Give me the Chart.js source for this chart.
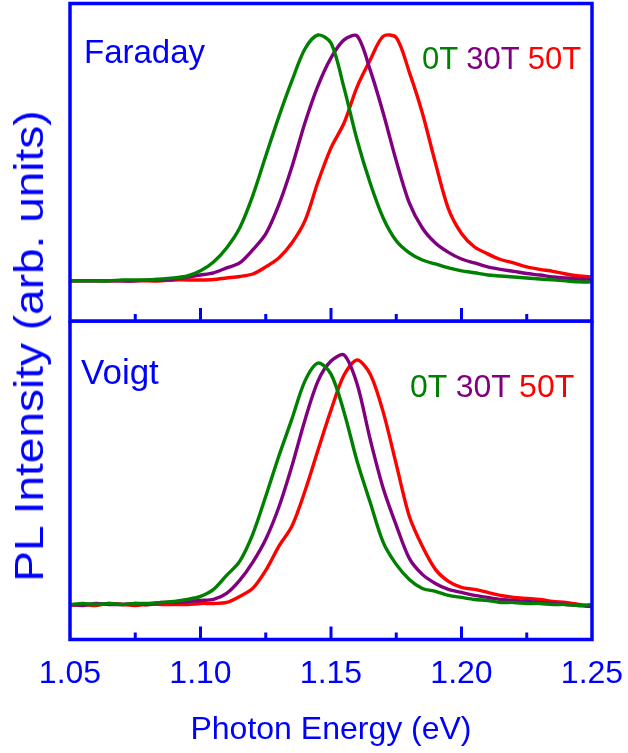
<!DOCTYPE html>
<html>
<head>
<meta charset="utf-8">
<script src="https://cdn.jsdelivr.net/npm/chart.js@4.4.1/dist/chart.umd.min.js"></script>
<style>
  html, body { margin: 0; padding: 0; background: #ffffff; }
  #wrap { position: relative; width: 628px; height: 753px; overflow: hidden; font-family: "Liberation Sans", Arial, sans-serif; }
  canvas { position: absolute; left: 0; }
  .txt { position: absolute; white-space: nowrap; line-height: 1; }
  #ytitle { position: absolute; left: -221px; top: 326px; width: 500px; height: 40px; font-size: 40px; color: #0000ff; text-align: center; transform: rotate(-90deg) scaleX(1.15); transform-origin: 50% 50%; line-height: 1; white-space: nowrap; }
</style>
</head>
<body>
<div id="wrap">
  <canvas id="topChart" style="top:0px"></canvas>
  <canvas id="botChart" style="top:321px"></canvas>
  <div class="txt" id="lblFaraday" style="left:84px; top:35px; font-size:33px; color:#0000ff;">Faraday</div>
  <div class="txt" id="lblVoigt" style="left:81px; top:354px; font-size:35px; color:#0000ff;">Voigt</div>
  <div class="txt" id="legTop" style="left:422px; top:43px; font-size:31px;"></div>
  <div class="txt" id="legBot" style="left:410px; top:370px; font-size:32px;"></div>
  <div id="ytitle">PL Intensity (arb. units)</div>
</div>
<script>
// ---- data ----
const energy = [1.050,1.055,1.060,1.065,1.070,1.075,1.080,1.085,1.090,1.095,
                1.100,1.105,1.110,1.115,1.120,1.125,1.130,1.135,1.140,1.145,
                1.150,1.155,1.160,1.165,1.170,1.175,1.180,1.185,1.190,1.195,
                1.200,1.205,1.210,1.215,1.220,1.225,1.230,1.235,1.240,1.245,1.250];

const fieldLabels = ["0T", "30T", "50T"];
const fieldColors = ["#008000", "#800080", "#ff0000"];

// Faraday geometry (normalised PL intensity)
const faraday0T  = [0,0,0,0,0.4,0.4,0.4,0.8,1.2,2.0,
                    4.1,7.7,13.4,21.5,34.6,50.8,66.7,81.3,94.3,100,
                    96.7,78.5,57.3,39.8,25.6,16.3,11.4,8.5,6.9,5.3,
                    4.1,3.3,2.4,2.0,1.6,1.2,0.8,0.4,0,-0.4,-0.4];
const faraday30T = [0,0,0,0,0,0,0.4,0.4,0.8,1.6,
                    2.4,3.3,5.3,7.3,12.6,19.1,30.9,46.3,64.2,79.3,
                    90.7,98.0,99.6,85.8,68.3,48.8,31.7,21.5,15.4,11.6,
                    8.9,7.3,5.7,4.7,3.9,3.0,2.4,1.6,1.2,0.8,0.4];
const faraday50T = [0,0,0,0,0,0,0,0,0.4,0.4,
                    0.4,0.6,1.2,1.8,2.8,5.7,9.3,15.4,24.4,40.2,
                    54.1,64.2,78.9,89.8,99.5,99.0,84.9,68.3,48.0,29.3,
                    19.3,13.8,11.0,8.7,7.3,5.7,4.7,3.9,2.8,2.0,1.6];

// Voigt geometry (normalised PL intensity)
const voigt0T  = [0,0.4,0,0.4,0,0.4,0.4,0.8,1.2,2.0,
                  3.2,6.0,11.6,17.2,28.0,43.2,59.2,74.0,89.2,96.4,
                  92.0,76.8,57.2,40.8,24.8,16.0,10.0,6.4,5.2,3.6,
                  2.8,2.0,1.6,0.8,0.8,0.4,0.4,0,0,-0.4,0];
const voigt30T = [0,-0.4,0.4,0,0,0.4,0,0.8,0.8,1.2,
                  1.6,2.0,4.4,9.6,16.8,26.0,38.8,55.2,73.6,89.2,
                  97.2,99.6,88.0,66.0,46.4,31.6,18.4,12.0,8.4,6.0,
                  4.8,3.6,2.8,2.0,1.6,1.2,0.8,0.4,0,-0.4,-0.8];
const voigt50T = [-0.4,0,-0.4,0.4,0,-0.4,0,0,0,0,
                  0.4,0.4,0.8,3.2,6.4,13.6,23.2,31.2,45.2,61.6,
                  77.6,91.6,97.6,92.0,76.8,56.0,35.2,23.2,14.0,9.2,
                  6.8,6.0,4.8,3.6,2.8,2.4,2.0,1.2,0.8,0,-0.8];

const xMin = 1.05, xMax = 1.25;
const majorTicks = [1.05, 1.10, 1.15, 1.20, 1.25];

// ---- helpers ----
const BLUE = "#0000ff";
const FONT = "'Liberation Sans', Arial, sans-serif";

function pts(arr) { return energy.map((e, i) => ({ x: e, y: arr[i] })); }

function makeDatasets(series) {
  return series.map((s, i) => ({
    label: fieldLabels[i],
    data: pts(s),
    borderColor: fieldColors[i],
    backgroundColor: fieldColors[i],
    borderWidth: 3.4,
    pointRadius: 0,
    fill: false,
    tension: 0.3
  }));
}

// frame + inward ticks along the bottom edge, positioned by the x scale
const framePlugin = {
  id: 'frame',
  afterDraw(chart) {
    const { ctx, chartArea: a } = chart;
    const xs = chart.scales.x;
    ctx.save();
    ctx.strokeStyle = BLUE;
    ctx.lineWidth = 3.5;
    ctx.strokeRect(a.left, a.top, a.right - a.left, a.bottom - a.top);
    ctx.lineWidth = 3;
    ctx.lineCap = 'butt';
    xs.ticks.forEach(t => {
      const px = xs.getPixelForValue(t.value);
      if (px <= a.left + 2 || px >= a.right - 2) return;
      const major = majorTicks.some(m => Math.abs(m - t.value) < 1e-6);
      const len = major ? 13 : 7;
      ctx.beginPath();
      ctx.moveTo(px, a.bottom);
      ctx.lineTo(px, a.bottom - len);
      ctx.stroke();
    });
    ctx.restore();
  }
};

function baseOptions(yMin, yMax, showX, pad, axisHeight) {
  return {
    responsive: false,
    animation: false,
    events: [],
    layout: { padding: pad },
    plugins: { legend: { display: false }, tooltip: { enabled: false } },
    scales: {
      x: {
        type: 'linear',
        min: xMin, max: xMax,
        display: showX,
        grid: { display: false },
        border: { display: false },
        afterFit: s => { s.paddingLeft = 0; s.paddingRight = 0; if (showX) s.height = axisHeight; },
        ticks: {
          stepSize: 0.025,
          autoSkip: false,
          maxRotation: 0,
          padding: 7.5,
          color: BLUE,
          font: { family: FONT, size: 32 },
          callback: v => majorTicks.some(m => Math.abs(m - v) < 1e-6) ? v.toFixed(2) : ''
        },
        title: {
          display: showX,
          text: 'Photon Energy (eV)',
          color: BLUE,
          font: { family: FONT, size: 32 },
          padding: { top: 4, bottom: 3 }
        }
      },
      y: { type: 'linear', min: yMin, max: yMax, display: false }
    }
  };
}

// legend texts as real HTML text
function fillLegend(id) {
  const el = document.getElementById(id);
  fieldLabels.forEach((l, i) => {
    const s = document.createElement('span');
    s.textContent = (i ? ' ' : '') + l;
    s.style.color = fieldColors[i];
    el.appendChild(s);
  });
}
fillLegend('legTop');
fillLegend('legBot');

// top panel (Faraday)
const topCanvas = document.getElementById('topChart');
topCanvas.width = 628; topCanvas.height = 324;
topCanvas.style.width = '628px'; topCanvas.style.height = '324px';
new Chart(topCanvas, {
  type: 'line',
  data: { datasets: makeDatasets([faraday0T, faraday30T, faraday50T]) },
  options: baseOptions(-16.3, 112.8, false, { left: 70, right: 36, top: 3.5, bottom: 3 }, 0),
  plugins: [framePlugin]
});

// bottom panel (Voigt)
const botCanvas = document.getElementById('botChart');
botCanvas.width = 628; botCanvas.height = 432;
botCanvas.style.width = '628px'; botCanvas.style.height = '432px';
new Chart(botCanvas, {
  type: 'line',
  data: { datasets: makeDatasets([voigt0T, voigt30T, voigt50T]) },
  options: baseOptions(-14, 113.2, true, { left: 70, right: 36, top: 0, bottom: 1 }, 112.5),
  plugins: [framePlugin]
});
</script>
</body>
</html>
